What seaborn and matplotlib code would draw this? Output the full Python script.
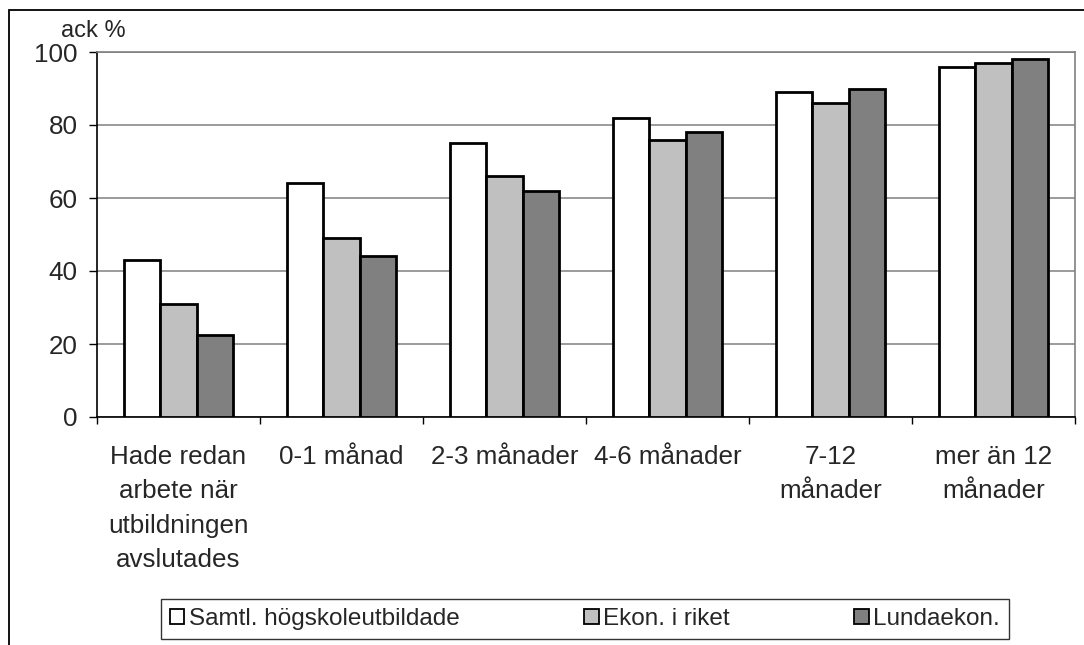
import matplotlib
matplotlib.use("Agg")
import matplotlib.pyplot as plt
from matplotlib.patches import Rectangle
import pandas as pd
import seaborn as sns

categories = ["Hade redan\narbete när\nutbildningen\navslutades", "0-1 månad", "2-3 månader",
              "4-6 månader", "7-12\nmånader", "mer än 12\nmånader"]
series = ["Samtl. högskoleutbildade", "Ekon. i riket", "Lundaekon."]
samtl = [43, 64, 75, 82, 89, 96]
ekon = [31, 49, 66, 76, 86, 97]
lunda = [22.5, 44, 62, 78, 90, 98]
colors = ["#ffffff", "#c0c0c0", "#808080"]

df = pd.DataFrame({"kategori": categories * 3,
                   "serie": [series[0]] * 6 + [series[1]] * 6 + [series[2]] * 6,
                   "ack": samtl + ekon + lunda})

sns.set_theme(style="white")
plt.rcParams["font.family"] = ["Liberation Sans", "DejaVu Sans"]
fs = 18.7

fig = plt.figure(figsize=(10.84, 6.45), dpi=100)
ax = fig.add_axes([97 / 1084, 1 - 417 / 645, (1075 - 97) / 1084, (417 - 52) / 645])

sns.barplot(data=df, x="kategori", y="ack", hue="serie", palette=colors,
            edgecolor="black", linewidth=2.0, width=0.67, gap=0, saturation=1,
            ax=ax, zorder=3)

ax.set_xlim(-0.5, 5.5)
ax.set_ylim(0, 100)
ax.set_yticks(range(0, 101, 20))
ax.set_xlabel("")
ax.set_ylabel("")
ax.grid(axis="y", color="#808080", linewidth=1.1, zorder=0)
ax.set_axisbelow(True)

ax.set_xticks(range(6))
ax.set_xticklabels(categories, linespacing=1.55, fontsize=fs)
ax.set_xticks([i - 0.5 for i in range(7)], minor=True)
ax.tick_params(axis="x", which="major", length=0, pad=20)
ax.tick_params(axis="x", which="minor", length=5, width=1, color="black", direction="out", bottom=True)
ax.tick_params(axis="y", length=6, width=1, color="black", direction="out", left=True,
               labelsize=fs, pad=8)

for s in ["top", "right"]:
    ax.spines[s].set_color("#808080")
    ax.spines[s].set_linewidth(1.2)
for s in ["left", "bottom"]:
    ax.spines[s].set_color("black")
    ax.spines[s].set_linewidth(1.2)

ax.legend_.remove()
handles = [Rectangle((0, 0), 1, 1, facecolor=c, edgecolor="black", linewidth=1.3) for c in colors]
leg = fig.legend(handles, series, loc="center", bbox_to_anchor=(585 / 1084, 1 - 619 / 645),
                 ncol=3, frameon=True, fancybox=False, fontsize=17.5, handlelength=0.6,
                 handleheight=0.6, handletextpad=0.2, columnspacing=5.1, borderpad=0.35)
leg.get_frame().set_edgecolor("black")
leg.get_frame().set_linewidth(1.0)

fig.text(61 / 1084, 1 - 37 / 645, "ack %", fontsize=17, va="baseline", ha="left")

fig.add_artist(Rectangle((9 / 1084, -0.05), 1.2, 1 - 10 / 645 + 0.05, transform=fig.transFigure,
                         fill=False, edgecolor="black", linewidth=1.3))

fig.savefig("out.png", dpi=100)
